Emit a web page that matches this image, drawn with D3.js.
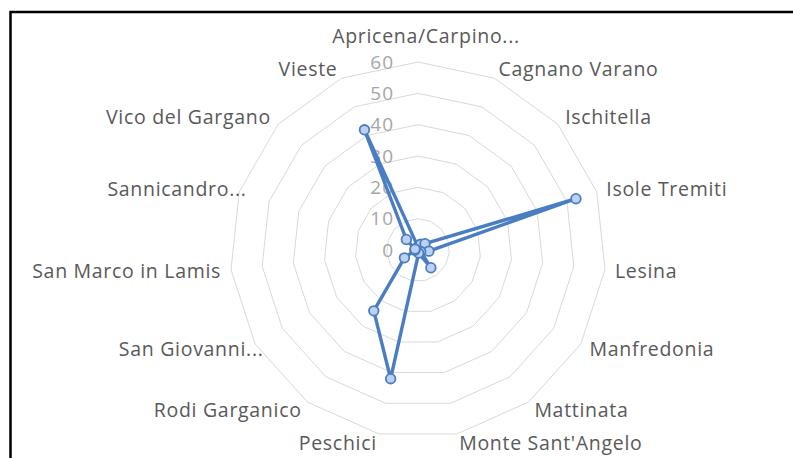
<!DOCTYPE html>
<html>
<head>
<meta charset="utf-8">
<script src="https://cdn.jsdelivr.net/npm/d3@7"></script>
<style>
  html, body { margin: 0; padding: 0; background: #ffffff; }
  svg { display: block; }
</style>
</head>
<body>
<svg id="chart" width="793" height="458"></svg>
<script>
const categories = [
  "Apricena/Carpino...", "Cagnano Varano", "Ischitella", "Isole Tremiti", "Lesina",
  "Manfredonia", "Mattinata", "Monte Sant'Angelo", "Peschici", "Rodi Garganico",
  "San Giovanni...", "San Marco in Lamis", "Sannicandro...", "Vico del Gargano", "Vieste"
];
const values = [1, 2, 3, 53, 3.5, 1, 7, 1, 42, 24, 5, 1, 1, 5, 42];
const tickValues = [0, 10, 20, 30, 40, 50, 60];

const svg = d3.select("#chart");
const cx = 418, cy = 250, R = 188;
const font = "'Open Sans', 'Liberation Sans', sans-serif";

// chart border (top + left visible)
svg.append("rect")
  .attr("x", 10.5).attr("y", 12)
  .attr("width", 900).attr("height", 600)
  .attr("fill", "none").attr("stroke", "#000").attr("stroke-width", 2.5);

const r = d3.scaleLinear().domain([0, 60]).range([0, R]);
const angle = d3.scaleLinear().domain([0, categories.length]).range([0, 2 * Math.PI]);

const g = svg.append("g").attr("transform", `translate(${cx},${cy})`);

// grid polygons
const ringLine = d3.lineRadial()
  .angle((d, i) => angle(i))
  .radius(d => r(d))
  .curve(d3.curveLinearClosed);

g.append("g").selectAll("path")
  .data(tickValues.filter(t => t > 0))
  .join("path")
  .attr("d", t => ringLine(categories.map(() => t)))
  .attr("fill", "none")
  .attr("stroke", "#d9d9d9")
  .attr("stroke-width", 1);

// tick labels
g.append("g").selectAll("text")
  .data(tickValues)
  .join("text")
  .attr("x", -24)
  .attr("y", t => -r(t))
  .attr("dy", "0.35em")
  .attr("text-anchor", "end")
  .attr("font-family", font)
  .attr("font-size", 19)
  .attr("letter-spacing", 1)
  .attr("fill", "#a6a6a6")
  .text(t => t);

// category labels
g.append("g").selectAll("text")
  .data(categories)
  .join("text")
  .each(function(d, i) {
    const a = angle(i);
    const s = Math.sin(a), c = Math.cos(a);
    const rr = R + 10;
    let x = rr * s, y = -rr * c;
    let anchor = "middle";
    if (s > 0.01) anchor = "start";
    else if (s < -0.01) anchor = "end";
    let dy = "0.35em";
    const truncated = d.endsWith("...");
    if (Math.abs(s) <= 0.01) { y = -R - 13; dy = "-0.3em"; if (truncated) x += 8; }
    else if (truncated && anchor === "end") x += 17;
    d3.select(this)
      .attr("x", x).attr("y", y).attr("dy", dy)
      .attr("text-anchor", anchor);
  })
  .attr("font-family", font)
  .attr("font-size", 19.5)
  .attr("letter-spacing", 0.7)
  .attr("fill", "#595959")
  .text(d => d);

// series line
const seriesLine = d3.lineRadial()
  .angle((d, i) => angle(i))
  .radius(d => r(d))
  .curve(d3.curveLinearClosed);

g.append("path")
  .datum(values)
  .attr("d", seriesLine)
  .attr("fill", "none")
  .attr("stroke", "#4a7dc2")
  .attr("stroke-width", 3.4)
  .attr("stroke-linejoin", "round");

// markers
g.append("g").selectAll("circle")
  .data(values)
  .join("circle")
  .attr("cx", (d, i) => r(d) * Math.sin(angle(i)))
  .attr("cy", (d, i) => -r(d) * Math.cos(angle(i)))
  .attr("r", 4.8)
  .attr("fill", "#bcd0f0")
  .attr("stroke", "#4a7dc2")
  .attr("stroke-width", 1.8);
</script>
</body>
</html>
